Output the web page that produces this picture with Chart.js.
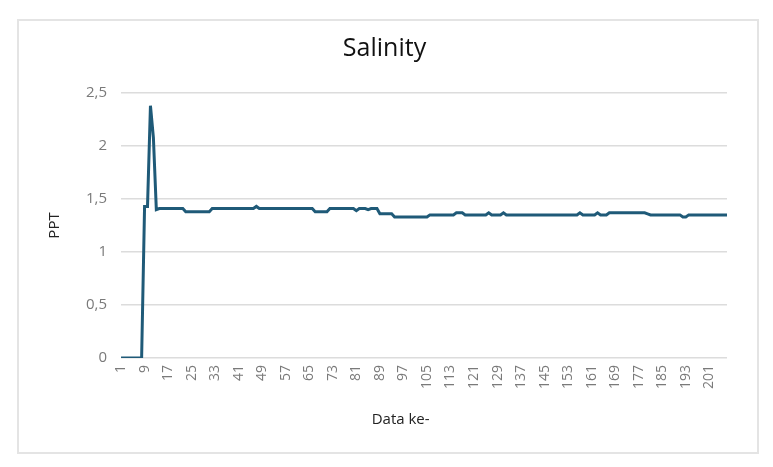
<!DOCTYPE html>
<html>
<head>
<meta charset="utf-8">
<script src="https://cdn.jsdelivr.net/npm/chart.js@4/dist/chart.umd.min.js"></script>
<style>
    html, body { margin: 0; padding: 0; background: #ffffff; }
    #frame {
        position: absolute;
        left: 17px; top: 19px;
        width: 738px; height: 431px;
        border: 2px solid #e4e4e4;
    }
    #wrap { position: absolute; left: 0; top: 0; width: 773px; height: 467px; }
</style>
</head>
<body>
<div id="frame"></div>
<div id="wrap"><canvas id="salinityChart"></canvas></div>
<script>
// ===== DATA =====
const yTicks = [0, 0.5, 1, 1.5, 2, 2.5];

const salinity = [
    0, 0, 0, 0, 0, 0, 0, 0,
    1.43, 1.43, 2.38, 2.08, 1.40,
    1.41, 1.41, 1.41, 1.41, 1.41, 1.41, 1.41, 1.41, 1.41,
    1.38, 1.38, 1.38, 1.38, 1.38, 1.38, 1.38, 1.38, 1.38,
    1.41, 1.41, 1.41, 1.41, 1.41, 1.41, 1.41, 1.41, 1.41, 1.41, 1.41, 1.41, 1.41, 1.41, 1.41,
    1.43,
    1.41, 1.41, 1.41, 1.41, 1.41, 1.41, 1.41, 1.41, 1.41, 1.41, 1.41, 1.41, 1.41, 1.41, 1.41, 1.41, 1.41, 1.41, 1.41,
    1.38, 1.38, 1.38, 1.38, 1.38,
    1.41, 1.41, 1.41, 1.41, 1.41, 1.41, 1.41, 1.41, 1.41,
    1.39,
    1.41, 1.41, 1.41, 1.40, 1.41, 1.41, 1.41,
    1.36, 1.36, 1.36, 1.36, 1.36,
    1.33, 1.33, 1.33, 1.33, 1.33, 1.33, 1.33, 1.33, 1.33, 1.33, 1.33, 1.33,
    1.35, 1.35, 1.35, 1.35, 1.35, 1.35, 1.35, 1.35, 1.35,
    1.37, 1.37, 1.37,
    1.35, 1.35, 1.35, 1.35, 1.35, 1.35, 1.35, 1.35,
    1.37,
    1.35, 1.35, 1.35, 1.35,
    1.37,
    1.35, 1.35, 1.35, 1.35, 1.35, 1.35, 1.35, 1.35, 1.35, 1.35, 1.35, 1.35, 1.35,
    1.35, 1.35, 1.35, 1.35, 1.35, 1.35, 1.35, 1.35, 1.35, 1.35, 1.35, 1.35,
    1.37,
    1.35, 1.35, 1.35, 1.35, 1.35,
    1.37,
    1.35, 1.35, 1.35,
    1.37, 1.37, 1.37, 1.37, 1.37, 1.37, 1.37, 1.37, 1.37, 1.37, 1.37, 1.37, 1.37,
    1.36,
    1.35, 1.35, 1.35, 1.35, 1.35, 1.35, 1.35, 1.35, 1.35, 1.35, 1.35,
    1.33, 1.33,
    1.35, 1.35, 1.35, 1.35, 1.35, 1.35, 1.35, 1.35, 1.35, 1.35, 1.35, 1.35, 1.35, 1.35
];

// category labels 1..n (data point number)
const categories = salinity.map((v, i) => String(i + 1));

const FONT = "'Open Sans', 'Noto Sans', sans-serif";

// ===== CHART =====
const ctx = document.getElementById('salinityChart');
new Chart(ctx, {
    type: 'line',
    data: {
        labels: categories,
        datasets: [{
            label: 'Salinity',
            data: salinity,
            borderColor: '#1f5a78',
            borderWidth: 3,
            pointRadius: 0,
            tension: 0,
            fill: false
        }]
    },
    options: {
        responsive: true,
        maintainAspectRatio: false,
        animation: false,
        layout: {
            padding: { left: 42, right: 46, top: 26, bottom: 34 }
        },
        plugins: {
            legend: { display: false },
            tooltip: { enabled: false },
            title: {
                display: true,
                text: 'Salinity',
                color: '#111111',
                font: { family: FONT, size: 25, weight: 'normal' },
                padding: { top: 8, bottom: 29 }
            }
        },
        scales: {
            y: {
                min: 0,
                max: 2.5,
                afterBuildTicks: function(axis) {
                    axis.ticks = yTicks.map(v => ({ value: v }));
                },
                grid: {
                    color: '#dcdcdc',
                    lineWidth: 1.5,
                    drawTicks: false
                },
                border: { display: false },
                ticks: {
                    color: '#7a7a7a',
                    padding: 14,
                    font: { family: FONT, size: 15 },
                    callback: function(value) {
                        return String(value).replace('.', ',');
                    }
                },
                title: {
                    display: true,
                    text: 'PPT',
                    color: '#222222',
                    font: { family: FONT, size: 15 },
                    padding: { bottom: 8 }
                }
            },
            x: {
                offset: false,
                grid: { display: false, drawTicks: false },
                border: { display: false },
                ticks: {
                    autoSkip: false,
                    maxRotation: 90,
                    minRotation: 90,
                    padding: 7,
                    color: '#7a7a7a',
                    font: { family: FONT, size: 14 },
                    callback: function(value, index) {
                        return index % 8 === 0 ? categories[index] : '';
                    }
                },
                title: {
                    display: true,
                    // trailing spaces pull the centred title left, like the original
                    text: 'Data ke-' + '\u00a0'.repeat(12),
                    color: '#222222',
                    font: { family: FONT, size: 15 },
                    padding: { top: 15 }
                }
            }
        }
    }
});
</script>
</body>
</html>
